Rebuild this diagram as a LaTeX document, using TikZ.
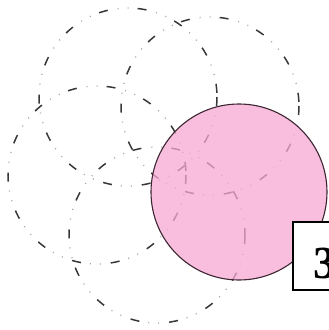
\documentclass[tikz,border=0pt]{standalone}
\usepackage{fontspec}
\setmainfont{Liberation Serif}
\definecolor{pinkfill}{RGB}{247,168,210}
\definecolor{pinkedge}{RGB}{60,38,50}
\begin{document}
\begin{tikzpicture}[x=1pt,y=-1pt,
  dashpart/.style={draw=black!78, line width=1.5pt, dash pattern=on 9pt off 30pt},
  dotpart/.style={draw=black!35, line width=1.3pt, dash pattern=on 1pt off 9pt on 1pt off 28pt, dash phase=20pt},
  pinkdisc/.style={fill=pinkfill, fill opacity=0.75, draw=pinkedge, line width=1.1pt},
  labelbox/.style={draw=black, line width=1.6pt, fill=white},
  labeltext/.style={font=\bfseries\fontsize{46}{46}\selectfont, inner sep=0pt}]
\useasboundingbox (0,0) rectangle (329,330);
\clip (0,0) rectangle (329,330);
\fill[white] (0,0) rectangle (329,330);
\foreach \cx/\cy/\r in {210/106/89, 128/97/89, 97/175/89, 157/235/88}{
  \draw[dotpart] (\cx,\cy) circle[radius=\r];
  \draw[dashpart] (\cx,\cy) circle[radius=\r];
}
\draw[pinkdisc] (239,192) circle[radius=88];
\draw[labelbox] (293,222) rectangle (345,290);
\node[labeltext, anchor=base west] (three) at (313,278) {3};
\end{tikzpicture}
\end{document}
